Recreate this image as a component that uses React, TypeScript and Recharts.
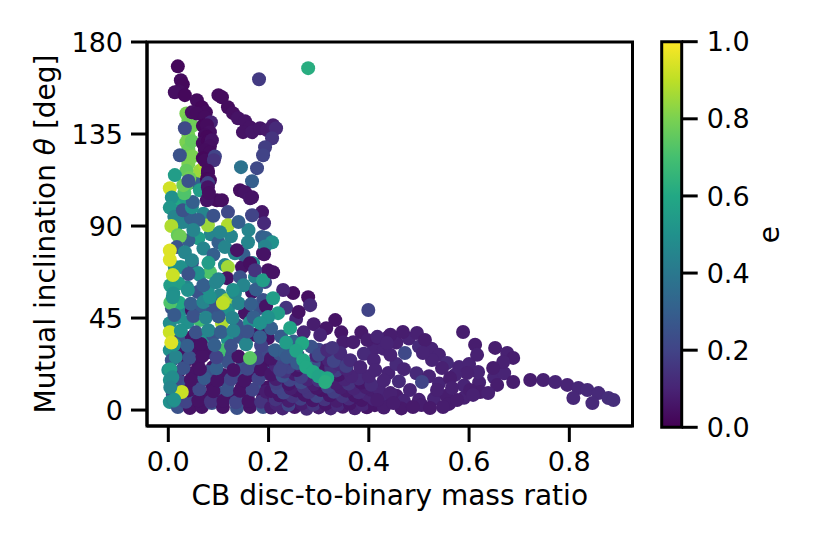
import React from 'react';
import { ScatterChart, Scatter, XAxis, YAxis, ReferenceArea, Label, BarChart, Bar } from 'recharts';

// [CB disc-to-binary mass ratio, mutual inclination (deg), e]
type Pt = [number, number, number];

const X_TICKS = [0, 0.2, 0.4, 0.6, 0.8];
const Y_TICKS = [0, 45, 90, 135, 180];
const E_TICKS = [0, 0.2, 0.4, 0.6, 0.8, 1.0];

const X_DOMAIN: [number, number] = [-0.0425, 0.926];
const Y_DOMAIN: [number, number] = [-7.8, 180];

// dense block near q = 0 .. 0.2, theta < 72
const lowCore: Pt[] = [
  [0.013, 69.9, 0.5], [0.047, 71.8, 0.25], [0.063, 66.0, 0.48], [0.083, 67.4, 0.72], [0.113, 70.9, 0.45],
  [0.119, 69.9, 0.86], [0.147, 69.9, 0.05], [0.167, 71.8, 0.45], [0.199, 68.4, 0.05],
  [0.117, 64.5, 0.05], [0.143, 65.0, 0.25], [0.173, 65.0, 0.45], [0.193, 62.6, 0.22],
  [0.037, 60.1, 0.45], [0.059, 57.7, 0.25], [0.079, 59.6, 0.5], [0.103, 56.2, 0.45], [0.117, 53.8, 0.85],
  [0.133, 57.2, 0.45], [0.167, 57.7, 0.05], [0.189, 53.8, 0.25],
  [0.007, 49.9, 0.25], [0.027, 48.9, 0.45], [0.047, 48.9, 0.05], [0.067, 50.3, 0.28], [0.089, 47.9, 0.25],
  [0.119, 48.9, 0.5], [0.153, 47.4, 0.05], [0.183, 49.9, 0.25],
  [0.003, 42.5, 0.48], [0.039, 43.0, 0.5], [0.063, 44.0, 0.7], [0.107, 42.5, 0.88], [0.137, 41.5, 0.25],
  [0.163, 43.0, 0.5], [0.187, 40.6, 0.5],
  [0.003, 38.1, 0.92], [0.023, 34.2, 0.25], [0.047, 35.7, 0.05], [0.069, 35.2, 0.5], [0.089, 36.7, 0.25],
  [0.119, 34.2, 0.5], [0.143, 35.7, 0.25], [0.173, 36.7, 0.05], [0.199, 35.2, 0.05],
  [0.003, 29.3, 0.5], [0.027, 28.3, 0.05], [0.053, 30.3, 0.05], [0.079, 28.3, 0.05], [0.109, 29.3, 0.7],
  [0.127, 26.9, 0.25], [0.187, 27.9, 0.25],
  [0.007, 24.4, 0.25], [0.033, 23.5, 0.05], [0.059, 23.0, 0.05], [0.089, 21.0, 0.05], [0.119, 23.5, 0.25],
  [0.147, 21.0, 0.25], [0.177, 21.0, 0.25], [0.199, 23.0, 0.05],
  [0.0, 19.6, 0.5], [0.019, 18.1, 0.05], [0.049, 18.1, 0.05], [0.079, 18.6, 0.25], [0.109, 17.1, 0.05],
  [0.137, 16.1, 0.25], [0.167, 17.1, 0.05], [0.193, 18.1, 0.25],
  [0.003, 14.7, 0.5], [0.033, 13.2, 0.25], [0.063, 13.7, 0.05], [0.089, 11.2, 0.05], [0.119, 13.2, 0.25],
  [0.147, 11.2, 0.05], [0.177, 10.8, 0.25], [0.199, 11.2, 0.05],
  [0.009, 7.3, 0.25], [0.047, 7.3, 0.25], [0.073, 6.4, 0.05], [0.103, 8.3, 0.25],
  [0.133, 6.4, 0.05], [0.159, 7.3, 0.25], [0.189, 6.4, 0.05],
  [0.003, 3.9, 0.5], [0.019, 1.5, 0.25], [0.043, 1.0, 0.05], [0.067, 1.5, 0.05], [0.087, 3.4, 0.25],
  [0.109, 1.5, 0.05], [0.137, 1.0, 0.25], [0.163, 1.5, 0.05], [0.189, 1.5, 0.25],
];

// dots between the rows above
const lowFill: Pt[] = [
  [0.010, 4.5, 0.45], [0.035, 4.0, 0.2], [0.060, 4.8, 0.05], [0.085, 4.2, 0.15], [0.110, 4.6, 0.05],
  [0.135, 3.8, 0.2], [0.160, 4.4, 0.05], [0.185, 4.0, 0.15],
  [0.012, 10.0, 0.3], [0.040, 9.6, 0.05], [0.062, 10.2, 0.22], [0.090, 9.2, 0.05], [0.118, 9.8, 0.25],
  [0.143, 9.4, 0.05], [0.168, 10.0, 0.2], [0.195, 9.0, 0.08],
  [0.016, 15.5, 0.22], [0.045, 14.8, 0.05], [0.072, 15.6, 0.28], [0.098, 14.6, 0.05], [0.125, 15.2, 0.2],
  [0.152, 14.5, 0.05], [0.180, 15.4, 0.2],
  [0.030, 20.5, 0.25], [0.063, 20.0, 0.05], [0.096, 20.4, 0.3], [0.130, 19.6, 0.05], [0.158, 20.2, 0.22],
  [0.185, 19.8, 0.05],
  [0.015, 26.0, 0.45], [0.042, 25.6, 0.25], [0.068, 26.4, 0.05], [0.096, 25.8, 0.2], [0.140, 26.2, 0.05],
  [0.178, 25.4, 0.2], [0.200, 28.0, 0.22],
  [0.012, 32.0, 0.5], [0.038, 31.5, 0.3], [0.065, 32.3, 0.05], [0.092, 31.8, 0.3], [0.125, 31.4, 0.25],
  [0.155, 32.2, 0.45], [0.185, 31.6, 0.2],
  [0.025, 38.8, 0.5], [0.055, 38.0, 0.25], [0.080, 39.0, 0.45], [0.105, 38.2, 0.3], [0.130, 38.8, 0.45],
  [0.158, 38.4, 0.25], [0.190, 38.0, 0.05],
  [0.020, 45.5, 0.5], [0.050, 46.0, 0.25], [0.075, 45.2, 0.45], [0.100, 45.8, 0.28], [0.128, 45.0, 0.45],
  [0.170, 45.4, 0.3],
  [0.022, 52.5, 0.6], [0.045, 52.0, 0.3], [0.070, 52.8, 0.45], [0.095, 51.6, 0.25], [0.140, 52.2, 0.45],
  [0.165, 51.8, 0.3], [0.195, 50.8, 0.05],
  [0.020, 62.0, 0.55], [0.070, 61.0, 0.3], [0.095, 62.5, 0.45], [0.150, 61.0, 0.45], [0.175, 59.0, 0.3],
  [0.163, 25.4, 0.74], [0.027, 8.8, 0.92],
];

// high-e dots hugging q ~ 0
const leftEdge: Pt[] = [
  [0.004, 61.0, 0.55], [0.010, 57.0, 0.5], [0.004, 52.5, 0.72], [0.012, 46.5, 0.28], [0.006, 33.0, 0.95],
  [0.004, 20.0, 0.55], [0.008, 16.0, 0.48], [0.004, 11.0, 0.45], [0.012, 5.0, 0.5], [0.009, 55.2, 0.5],
  [0.039, 58.7, 0.5], [0.059, 67.0, 0.5], [0.083, 55.2, 0.5], [0.129, 58.7, 0.5], [0.109, 52.3, 0.9],
];

// q ~ 0 .. 0.2, theta 65 .. 120
const midRegion: Pt[] = [
  [0.015, 90.0, 0.5], [0.030, 92.0, 0.45], [0.025, 103.0, 0.55], [0.045, 94.0, 0.3], [0.070, 96.0, 0.45],
  [0.085, 86.0, 0.45], [0.060, 84.0, 0.55], [0.040, 83.0, 0.3], [0.070, 79.0, 0.45], [0.090, 76.0, 0.3],
  [0.025, 70.0, 0.5], [0.040, 66.5, 0.25], [0.080, 72.0, 0.55], [0.100, 64.0, 0.45], [0.013, 100.0, 0.6],
  [0.055, 111.0, 0.3], [0.100, 82.0, 0.3], [0.160, 88.0, 0.45], [0.125, 85.0, 0.45], [0.150, 76.0, 0.3],
  [0.003, 108.5, 0.93], [0.007, 104.0, 0.5], [0.003, 99.0, 0.52], [0.012, 94.5, 0.45], [0.006, 90.0, 0.88],
  [0.019, 85.5, 0.76], [0.023, 85.0, 0.78], [0.029, 97.7, 0.25], [0.047, 99.2, 0.5], [0.049, 101.7, 0.3],
  [0.063, 107.5, 0.55], [0.063, 117.0, 0.85], [0.073, 119.7, 0.88], [0.097, 102.6, 0.03], [0.107, 102.6, 0.04],
  [0.077, 102.6, 0.05], [0.119, 96.8, 0.22], [0.079, 90.4, 0.85], [0.119, 90.4, 0.88], [0.103, 87.0, 0.45],
  [0.017, 79.7, 0.25], [0.033, 77.2, 0.45], [0.047, 73.3, 0.45], [0.113, 79.7, 0.45], [0.133, 76.7, 0.45],
  [0.159, 82.1, 0.45], [0.193, 81.6, 0.45], [0.187, 84.6, 0.3], [0.137, 78.2, 0.05], [0.169, 71.8, 0.45],
  [0.189, 76.7, 0.05], [0.163, 71.8, 0.04], [0.003, 78.0, 0.95], [0.003, 73.5, 0.95], [0.009, 66.0, 0.92],
  [0.060, 93.0, 0.3], [0.090, 95.0, 0.25], [0.050, 88.0, 0.45], [0.140, 92.0, 0.3],
];

// light-green column at q ~ 0.04 and the blue dots over it
const greenColumn: Pt[] = [
  [0.036, 145.0, 0.8], [0.040, 141.5, 0.78], [0.034, 138.0, 0.76], [0.040, 134.5, 0.79], [0.036, 131.0, 0.8],
  [0.040, 127.5, 0.77], [0.034, 124.0, 0.78], [0.040, 120.5, 0.8], [0.036, 117.0, 0.76], [0.042, 113.5, 0.78],
  [0.036, 110.0, 0.75], [0.032, 106.0, 0.72], [0.048, 139.0, 0.78], [0.047, 131.5, 0.76], [0.048, 124.0, 0.8],
  [0.030, 110.0, 0.78],
  [0.033, 137.8, 0.22], [0.023, 124.6, 0.25], [0.013, 114.9, 0.55], [0.040, 112.0, 0.25],
];

// dark column at q ~ 0.08 reaching 168 deg
const topColumn: Pt[] = [
  [0.019, 168.1, 0.02], [0.025, 161.3, 0.03], [0.029, 159.3, 0.02], [0.021, 155.9, 0.03], [0.013, 155.4, 0.04],
  [0.033, 154.0, 0.02], [0.057, 151.5, 0.03], [0.067, 148.1, 0.02], [0.047, 145.6, 0.04], [0.075, 145.6, 0.03],
  [0.057, 145.0, 0.03], [0.073, 143.2, 0.03], [0.085, 140.8, 0.1], [0.069, 139.0, 0.02], [0.077, 139.3, 0.03],
  [0.083, 135.9, 0.04], [0.073, 134.4, 0.03], [0.077, 133.6, 0.02], [0.069, 130.5, 0.03], [0.079, 131.5, 0.02],
  [0.087, 132.0, 0.05], [0.083, 129.0, 0.04], [0.073, 127.1, 0.03], [0.083, 126.0, 0.03], [0.069, 123.2, 0.02],
  [0.073, 122.0, 0.03], [0.093, 124.0, 0.2], [0.091, 122.2, 0.15], [0.079, 117.0, 0.03], [0.079, 115.8, 0.03],
  [0.077, 113.0, 0.02], [0.083, 112.4, 0.03], [0.079, 111.0, 0.2], [0.079, 109.0, 0.05], [0.081, 106.1, 0.04],
];

// arc from q ~ 0.1 over to 0.21 and back down
const upperArc: Pt[] = [
  [0.100, 154.0, 0.03], [0.107, 153.0, 0.03], [0.119, 148.1, 0.03], [0.129, 145.2, 0.04], [0.139, 142.7, 0.05],
  [0.153, 141.3, 0.05], [0.163, 138.3, 0.05], [0.149, 135.9, 0.05], [0.167, 135.9, 0.06], [0.183, 137.8, 0.06],
  [0.197, 136.9, 0.07], [0.209, 139.3, 0.08], [0.215, 137.8, 0.12], [0.207, 132.9, 0.15], [0.193, 128.5, 0.18],
  [0.189, 124.6, 0.2], [0.177, 118.3, 0.22], [0.167, 111.9, 0.3], [0.143, 107.5, 0.04], [0.153, 106.5, 0.05],
  [0.163, 103.6, 0.06], [0.167, 104.1, 0.05], [0.187, 96.8, 0.06], [0.167, 95.3, 0.2], [0.191, 91.4, 0.12],
  [0.195, 84.1, 0.32], [0.207, 82.1, 0.5], [0.193, 80.0, 0.45], [0.191, 76.2, 0.05], [0.173, 68.4, 0.15],
  [0.189, 63.5, 0.55], [0.209, 67.4, 0.05], [0.145, 118.8, 0.38],
];

// q ~ 0.2 .. 0.45, theta 15 .. 58
const fanBands: Pt[] = [
  [0.249, 57.2, 0.04], [0.279, 55.2, 0.04], [0.283, 51.3, 0.12], [0.333, 44.0, 0.05], [0.229, 58.7, 0.1],
  [0.205, 40.0, 0.3], [0.225, 36.0, 0.28], [0.250, 33.5, 0.3], [0.270, 38.0, 0.1], [0.285, 31.0, 0.25],
  [0.300, 27.0, 0.22], [0.330, 24.0, 0.2], [0.355, 21.5, 0.18], [0.290, 42.0, 0.08], [0.315, 40.0, 0.06],
  [0.255, 44.5, 0.1], [0.235, 50.0, 0.15], [0.260, 48.0, 0.05], [0.345, 38.0, 0.06], [0.385, 38.0, 0.07],
  [0.410, 30.0, 0.1], [0.390, 27.5, 0.12], [0.410, 24.5, 0.1],
  [0.183, 35.7, 0.3], [0.213, 29.3, 0.3], [0.233, 27.9, 0.3], [0.237, 25.9, 0.28], [0.257, 23.0, 0.28],
  [0.283, 19.6, 0.22], [0.223, 19.6, 0.2],
  [0.303, 36.7, 0.1], [0.349, 33.2, 0.08], [0.369, 33.2, 0.08], [0.397, 34.2, 0.08], [0.417, 35.2, 0.08],
  [0.439, 35.7, 0.08],
  [0.317, 29.3, 0.12], [0.343, 27.9, 0.12], [0.363, 24.4, 0.12], [0.383, 21.0, 0.1], [0.413, 19.6, 0.1],
  [0.439, 18.1, 0.1], [0.327, 30.4, 0.15],
  [0.209, 54.7, 0.55], [0.219, 47.4, 0.55], [0.199, 45.5, 0.5], [0.183, 42.5, 0.5], [0.243, 40.1, 0.58],
  [0.235, 33.0, 0.55], [0.267, 32.7, 0.6], [0.255, 29.0, 0.58], [0.269, 24.4, 0.6], [0.275, 21.0, 0.6],
  [0.289, 18.6, 0.6], [0.300, 16.5, 0.58], [0.317, 15.6, 0.6], [0.313, 13.7, 0.62],
];

// dark floor q ~ 0.2 .. 0.43, theta < 28
const bottomBand: Pt[] = [
  [0.205, 1.2, 0.08], [0.228, 0.8, 0.1], [0.252, 1.5, 0.06], [0.276, 0.6, 0.12], [0.300, 1.3, 0.08],
  [0.324, 0.8, 0.1], [0.348, 1.6, 0.07], [0.372, 0.9, 0.09], [0.396, 1.4, 0.06],
  [0.216, 3.0, 0.1], [0.240, 2.6, 0.2], [0.266, 3.2, 0.08], [0.290, 2.8, 0.15], [0.314, 3.0, 0.06],
  [0.338, 2.6, 0.12], [0.362, 3.2, 0.06], [0.388, 2.8, 0.1], [0.412, 2.4, 0.06], [0.432, 4.0, 0.08],
  [0.214, 5.2, 0.15], [0.240, 4.6, 0.08], [0.264, 5.5, 0.18], [0.288, 4.8, 0.06], [0.312, 5.3, 0.15],
  [0.336, 4.5, 0.08], [0.360, 5.6, 0.12], [0.386, 4.9, 0.06], [0.410, 5.4, 0.1],
  [0.222, 7.2, 0.06], [0.248, 6.8, 0.15], [0.272, 7.4, 0.06], [0.296, 6.9, 0.2], [0.322, 7.2, 0.06],
  [0.348, 6.8, 0.15], [0.372, 7.1, 0.06], [0.398, 7.4, 0.1],
  [0.205, 9.3, 0.06], [0.230, 8.6, 0.2], [0.255, 9.6, 0.06], [0.280, 8.8, 0.15], [0.305, 9.8, 0.05],
  [0.330, 8.9, 0.18], [0.355, 9.5, 0.07], [0.380, 8.7, 0.12], [0.405, 9.9, 0.08], [0.425, 7.5, 0.1],
  [0.218, 11.0, 0.2], [0.244, 10.6, 0.08], [0.270, 11.2, 0.15], [0.296, 10.8, 0.06], [0.318, 11.4, 0.2],
  [0.344, 11.0, 0.08], [0.370, 10.6, 0.1], [0.394, 11.2, 0.08], [0.420, 10.8, 0.1],
  [0.215, 13.2, 0.18], [0.240, 12.8, 0.06], [0.265, 13.6, 0.22], [0.290, 12.6, 0.08], [0.335, 13.1, 0.08],
  [0.360, 12.9, 0.15], [0.385, 13.5, 0.06], [0.405, 12.4, 0.12],
  [0.215, 15.2, 0.08], [0.242, 14.8, 0.2], [0.278, 15.0, 0.1], [0.300, 14.6, 0.15], [0.352, 15.0, 0.1],
  [0.380, 15.4, 0.12], [0.400, 16.5, 0.1],
  [0.205, 17.4, 0.06], [0.228, 16.8, 0.25], [0.252, 17.6, 0.08], [0.265, 16.2, 0.18], [0.340, 17.2, 0.06],
  [0.365, 16.5, 0.1],
  [0.232, 18.8, 0.15], [0.256, 19.6, 0.06], [0.310, 19.0, 0.1], [0.335, 19.4, 0.18], [0.355, 20.0, 0.1],
  [0.215, 21.6, 0.1], [0.240, 21.0, 0.2], [0.300, 21.5, 0.06], [0.325, 20.8, 0.14],
  [0.228, 23.4, 0.2], [0.262, 22.0, 0.1], [0.290, 23.0, 0.25], [0.340, 22.5, 0.12],
  [0.205, 25.2, 0.06], [0.250, 24.6, 0.15], [0.320, 24.4, 0.1],
  [0.222, 27.5, 0.25], [0.258, 27.0, 0.2], [0.295, 26.5, 0.1], [0.300, 29.5, 0.2],
];

// purple loops out to q ~ 0.89
const rightBand: Pt[] = [
  [0.430, 30.0, 0.1], [0.455, 33.0, 0.09], [0.480, 35.0, 0.1], [0.500, 31.0, 0.12], [0.525, 30.0, 0.1],
  [0.540, 27.0, 0.1], [0.556, 23.0, 0.12], [0.580, 21.0, 0.1], [0.600, 22.5, 0.1],
  [0.455, 22.5, 0.12], [0.470, 20.0, 0.1], [0.495, 18.0, 0.12], [0.520, 16.5, 0.1], [0.540, 13.0, 0.1],
  [0.460, 14.0, 0.12], [0.430, 14.5, 0.1], [0.455, 7.0, 0.08], [0.470, 4.5, 0.1], [0.500, 5.0, 0.09],
  [0.530, 5.5, 0.1], [0.555, 7.0, 0.08], [0.590, 12.0, 0.1], [0.620, 13.5, 0.09], [0.650, 16.0, 0.1],
  [0.670, 18.0, 0.1], [0.430, 1.2, 0.08], [0.465, 0.8, 0.07], [0.505, 2.5, 0.08], [0.560, 3.0, 0.08],
  [0.590, 6.0, 0.09],
  [0.468, 38.2, 0.08], [0.496, 37.7, 0.09], [0.443, 36.8, 0.08], [0.417, 35.8, 0.1], [0.512, 34.3, 0.08],
  [0.612, 31.9, 0.08], [0.616, 27.0, 0.09], [0.652, 30.4, 0.08], [0.676, 27.9, 0.09], [0.688, 25.5, 0.08],
  [0.668, 23.5, 0.09], [0.648, 20.6, 0.08], [0.618, 18.6, 0.1], [0.596, 18.1, 0.09], [0.572, 17.2, 0.1],
  [0.562, 15.7, 0.08], [0.546, 20.6, 0.09], [0.526, 24.5, 0.1], [0.508, 27.9, 0.1], [0.472, 27.9, 0.22],
  [0.443, 27.0, 0.1], [0.436, 32.8, 0.1],
  [0.688, 13.7, 0.08], [0.722, 14.7, 0.08], [0.748, 14.7, 0.09], [0.772, 13.7, 0.1], [0.796, 12.3, 0.1],
  [0.818, 10.8, 0.11], [0.836, 9.8, 0.12], [0.858, 8.3, 0.12], [0.878, 5.9, 0.13], [0.888, 4.9, 0.13],
  [0.846, 3.4, 0.12], [0.808, 5.9, 0.11],
  [0.656, 12.3, 0.08], [0.622, 8.8, 0.08], [0.602, 9.8, 0.08], [0.566, 10.8, 0.09], [0.536, 9.8, 0.09],
  [0.506, 13.7, 0.2], [0.482, 9.8, 0.1], [0.443, 8.3, 0.09],
  [0.417, 4.9, 0.08], [0.449, 3.4, 0.08], [0.488, 1.5, 0.07], [0.522, 1.0, 0.07], [0.548, 1.5, 0.08],
  [0.576, 4.9, 0.08], [0.608, 7.4, 0.09], [0.638, 8.3, 0.09],
];

const isolated: Pt[] = [
  [0.279, 167.2, 0.62], [0.181, 161.8, 0.17], [0.399, 48.9, 0.2], [0.588, 38.2, 0.08],
];

const points = [
  ...lowCore, ...lowFill, ...bottomBand, ...fanBands, ...rightBand, ...leftEdge,
  ...midRegion, ...greenColumn, ...topColumn, ...upperArc, ...isolated,
].map(([q, theta, e]) => ({ q, theta, e }));

const colorbarRange = [{ name: 'e', top: 1 }];

const VIRIDIS = [
  '#440154', '#482475', '#414487', '#355f8d', '#2a788e', '#21918c',
  '#22a884', '#44bf70', '#7ad151', '#bddf26', '#fde725',
];

function viridis(t: number) {
  const s = Math.min(Math.max(t, 0), 1) * 10;
  const i = Math.min(Math.floor(s), 9);
  const f = s - i;
  const a = VIRIDIS[i], b = VIRIDIS[i + 1];
  const ch = (h: string, k: number) => parseInt(h.slice(1 + 2 * k, 3 + 2 * k), 16);
  const mix = [0, 1, 2].map((k) => Math.round(ch(a, k) + (ch(b, k) - ch(a, k)) * f));
  return `rgb(${mix.join(',')})`;
}

const FONT = 'DejaVu Sans';
const TICK_STYLE = { fill: '#000', fontSize: 27, fontFamily: FONT };
const LINE = { stroke: '#000', strokeWidth: 3 };

const Dot = (p: any) => <circle cx={p.cx} cy={p.cy} r={7} fill={viridis(p.payload.e)} />;

export default function App() {
  return (
    <div style={{ position: 'absolute', left: 0, top: 0, width: 814, height: 543, background: '#fff' }}>
      <div style={{ position: 'absolute', left: 0, top: 0 }}>
        <ScatterChart width={814} height={543} margin={{ top: 42, right: 181.5, bottom: 37, left: 37 }}>
          <XAxis
            type="number"
            dataKey="q"
            domain={X_DOMAIN}
            allowDataOverflow
            ticks={X_TICKS}
            tickFormatter={(v: number) => v.toFixed(1)}
            axisLine={LINE}
            tickLine={LINE}
            tickSize={16}
            tickMargin={10}
            tick={TICK_STYLE}
            height={80}
          >
            <Label
              content={({ viewBox }: any) => (
                <text
                  x={viewBox.x + viewBox.width / 2}
                  y={viewBox.y + 79}
                  textAnchor="middle"
                  fontSize={28}
                  fontFamily={FONT}
                  fill="#000"
                >
                  CB disc-to-binary mass ratio
                </text>
              )}
            />
          </XAxis>
          <YAxis
            type="number"
            dataKey="theta"
            domain={Y_DOMAIN}
            allowDataOverflow
            ticks={Y_TICKS}
            axisLine={LINE}
            tickLine={LINE}
            tickSize={16}
            tickMargin={8}
            tick={TICK_STYLE}
            width={110}
          >
            <Label
              content={({ viewBox }: any) => {
                const x = viewBox.x + 18;
                const y = viewBox.y + viewBox.height / 2;
                return (
                  <text
                    x={x}
                    y={y}
                    transform={`rotate(-90 ${x} ${y})`}
                    textAnchor="middle"
                    fontSize={28}
                    fontFamily={FONT}
                    fill="#000"
                  >
                    Mutual inclination <tspan fontStyle="italic">θ</tspan> [deg]
                  </text>
                );
              }}
            />
          </YAxis>
          <Scatter data={points} shape={Dot} isAnimationActive={false} />
          <ReferenceArea
            x1={X_DOMAIN[0]}
            x2={X_DOMAIN[1]}
            y1={Y_DOMAIN[0]}
            y2={Y_DOMAIN[1]}
            fill="none"
            stroke="#000"
            strokeWidth={3}
            ifOverflow="visible"
          />
        </ScatterChart>
      </div>
      <div style={{ position: 'absolute', left: 0, top: 0 }}>
        <BarChart
          width={814}
          height={543}
          data={colorbarRange}
          barCategoryGap={0}
          margin={{ top: 41.7, right: 72.3, bottom: 115.7, left: 661.7 }}
        >
          <defs>
            <linearGradient id="viridisBar" x1="0" y1="1" x2="0" y2="0">
              {VIRIDIS.map((c, i) => (
                <stop key={c} offset={i / 10} stopColor={c} />
              ))}
            </linearGradient>
          </defs>
          <XAxis dataKey="name" hide />
          <YAxis
            orientation="right"
            type="number"
            domain={[0, 1]}
            ticks={E_TICKS}
            tickFormatter={(v: number) => v.toFixed(1)}
            axisLine={false}
            tickLine={LINE}
            tickSize={16}
            tickMargin={9}
            tick={TICK_STYLE}
            width={60}
          >
            <Label
              content={({ viewBox }: any) => {
                const x = viewBox.x + 97.3;
                const y = viewBox.y + viewBox.height / 2;
                return (
                  <text
                    x={x}
                    y={y}
                    transform={`rotate(-90 ${x} ${y})`}
                    textAnchor="middle"
                    fontSize={28}
                    fontFamily={FONT}
                    fill="#000"
                  >
                    e
                  </text>
                );
              }}
            />
          </YAxis>
          <Bar dataKey="top" fill="url(#viridisBar)" stroke="#000" strokeWidth={3} isAnimationActive={false} />
        </BarChart>
      </div>
    </div>
  );
}
